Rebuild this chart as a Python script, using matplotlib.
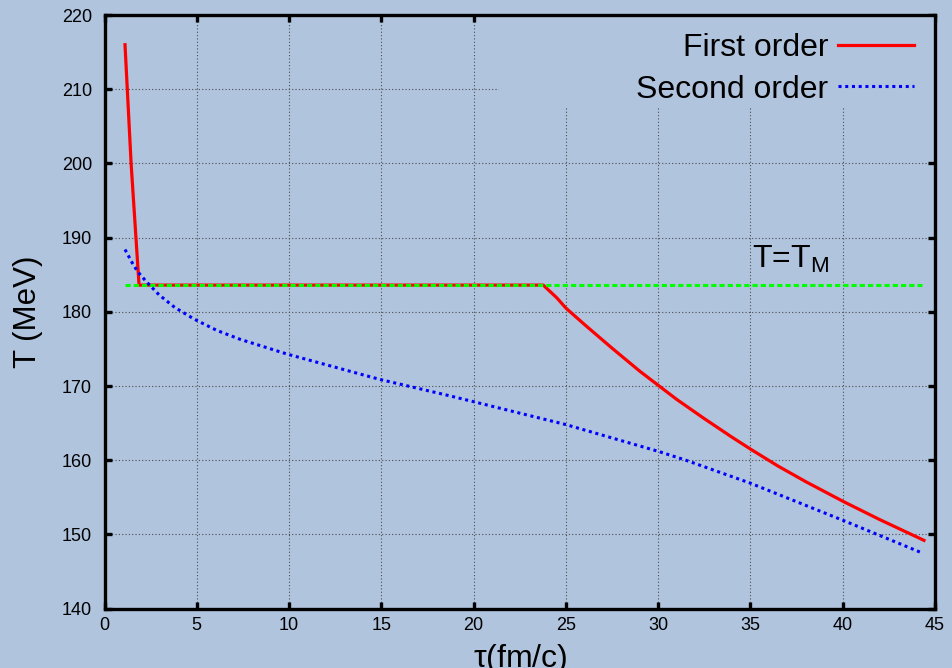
import matplotlib
matplotlib.use("Agg")
import matplotlib.pyplot as plt
from matplotlib.patches import Rectangle

plt.rcParams['font.family'] = ['Liberation Sans', 'DejaVu Sans']
plt.rcParams['mathtext.fontset'] = 'custom'
plt.rcParams['mathtext.rm'] = 'Liberation Sans'
plt.rcParams['mathtext.it'] = 'Liberation Sans'

# first order transition
tau_first = [1.11, 1.44, 1.87, 23.77, 24.5, 25.0, 26.0, 27.5, 29.0, 30.0, 31.0,
             32.5, 34.0, 35.0, 36.5, 38.0, 40.06, 42.0, 44.4]
T_first = [216.0, 200.0, 183.6, 183.6, 181.9, 180.5, 178.3, 175.1, 172.0, 170.1, 168.2,
           165.6, 163.1, 161.5, 159.2, 157.1, 154.4, 152.0, 149.2]

# second order transition
tau_second = [1.11, 1.5, 1.8, 2.29, 2.95, 3.8, 4.87, 6.08, 7.34, 9.9, 12.4, 14.9,
              18.5, 19.98, 25.0, 30.0, 31.5, 35.0, 40.06, 44.35]
T_second = [188.4, 186.6, 185.4, 184.0, 182.3, 180.6, 179.0, 177.5, 176.3, 174.3, 172.6, 170.9,
            168.8, 167.9, 164.8, 161.2, 160.0, 156.9, 151.85, 147.45]

# T = T_M
tau_M = [1.11, 44.3]
T_M = [183.6, 183.6]

bg = '#b0c4de'

fig = plt.figure(figsize=(9.52, 6.68), dpi=100, facecolor=bg)
ax = fig.add_axes([0.1098, 0.0889, 0.8724, 0.8886])
ax.set_facecolor(bg)
ax.set_axisbelow(True)

ax.plot(tau_first, T_first, color='red', lw=2.3, label='First order', zorder=3)
ax.plot(tau_M, T_M, color='#00ff00', lw=2.2, linestyle=(0, (1.7, 1.0)), zorder=4)
ax.plot(tau_second, T_second, color='blue', lw=2.2, linestyle=(0, (1, 1.2)),
        label='Second order', zorder=5)

ax.text(35.06, 185.9, r'T=T$_\mathrm{M}$', fontsize=23)

ax.set_xlim(0, 45)
ax.set_ylim(140, 220)
ax.set_xticks(range(0, 46, 5))
ax.set_yticks(range(140, 221, 10))

ax.grid(True, color='0.3', linestyle=(0, (1, 2)), lw=0.8)
# key box hides the grid behind it
ax.add_patch(Rectangle((0.475, 0.845), 0.525, 0.155, transform=ax.transAxes,
                       facecolor=bg, edgecolor='none', zorder=1))

for s in ax.spines.values():
    s.set_linewidth(2.4)
ax.tick_params(direction='in', length=5, width=2.4, labelsize=13,
               top=True, right=True)
ax.tick_params(axis='x', pad=6)
ax.tick_params(axis='y', pad=9)

ax.set_xlabel(r'$\tau$(fm/c)', fontsize=23)
ax.xaxis.set_label_coords(0.5, -0.056)
ax.set_ylabel('T (MeV)', fontsize=22.5)
ax.yaxis.set_label_coords(-0.074, 0.5)

ax.legend(loc='upper right', bbox_to_anchor=(0.975, 0.970), frameon=False,
          markerfirst=False, fontsize=23, handlelength=2.4, handletextpad=0.3,
          borderpad=0, borderaxespad=0, labelspacing=0.37)

fig.savefig('out.png', dpi=100, facecolor=bg)
